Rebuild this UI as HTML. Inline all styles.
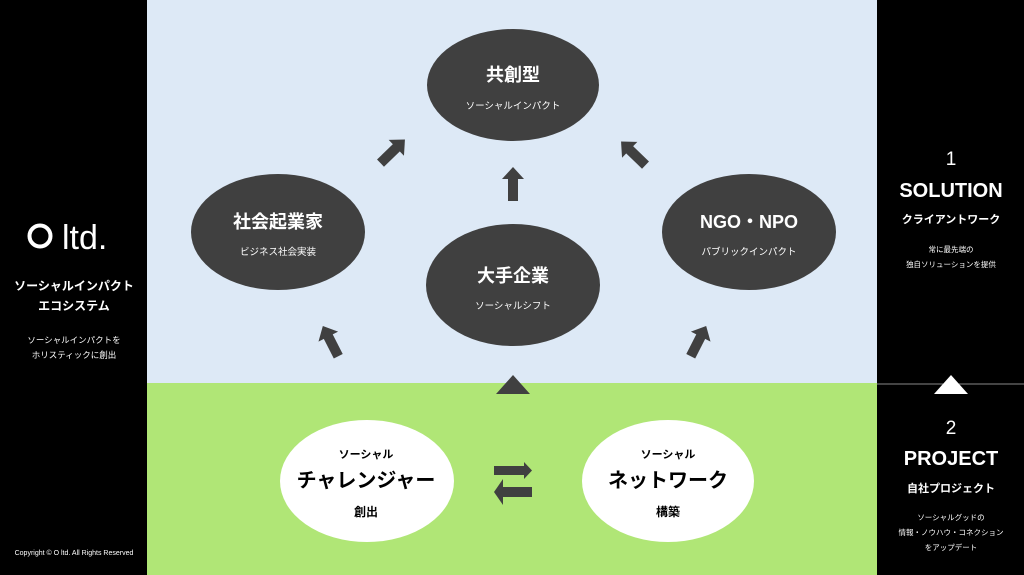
<!DOCTYPE html>
<html><head><meta charset="utf-8"><style>
body{margin:0;width:1024px;height:575px;overflow:hidden;background:#000;font-family:"Liberation Sans","Noto Sans CJK JP",sans-serif}
svg{position:absolute;left:0;top:0}
</style></head><body>
<svg width="1024" height="575" viewBox="0 0 1024 575" font-family="Liberation Sans, Noto Sans CJK JP, sans-serif">
<defs>
<g id="ar"><rect x="-5" y="-7" width="10" height="23" fill="#404040"/><polygon points="-11,-6 11,-6 0,-18" fill="#404040"/></g>
</defs>
<rect x="0" y="0" width="1024" height="575" fill="#000"/>
<rect x="147" y="0" width="730" height="383" fill="#dde9f6"/>
<rect x="147" y="383" width="730" height="192" fill="#b0e676"/>
<line x1="877" y1="384" x2="1024" y2="384" stroke="#888" stroke-width="1"/>
<!-- left panel -->
<circle cx="40" cy="236" r="10.5" fill="none" stroke="#fff" stroke-width="4"/>
<text x="62" y="249" fill="#fff" font-size="34">ltd.</text>
<text x="74" y="290" fill="#fff" font-size="12" font-weight="bold" text-anchor="middle">ソーシャルインパクト</text>
<text x="74" y="310" fill="#fff" font-size="12" font-weight="bold" text-anchor="middle">エコシステム</text>
<text x="74" y="343" fill="#fff" font-size="8.5" text-anchor="middle">ソーシャルインパクトを</text>
<text x="74" y="358" fill="#fff" font-size="8.5" text-anchor="middle">ホリスティックに創出</text>
<text x="74" y="555" fill="#fff" font-size="7" text-anchor="middle">Copyright © O ltd. All Rights Reserved</text>
<!-- right panel -->
<text x="951" y="165" fill="#fff" font-size="19" text-anchor="middle">1</text>
<text x="951" y="197" fill="#fff" font-size="20" font-weight="bold" text-anchor="middle">SOLUTION</text>
<text x="951" y="223" fill="#fff" font-size="11" font-weight="bold" text-anchor="middle">クライアントワーク</text>
<text x="951" y="252" fill="#fff" font-size="7.5" text-anchor="middle">常に最先端の</text>
<text x="951" y="267" fill="#fff" font-size="7.5" text-anchor="middle">独自ソリューションを提供</text>
<polygon points="951,375 934,394 968,394" fill="#fff"/>
<text x="951" y="434" fill="#fff" font-size="19" text-anchor="middle">2</text>
<text x="951" y="465" fill="#fff" font-size="20" font-weight="bold" text-anchor="middle">PROJECT</text>
<text x="951" y="492" fill="#fff" font-size="11" font-weight="bold" text-anchor="middle">自社プロジェクト</text>
<text x="951" y="520" fill="#fff" font-size="7.5" text-anchor="middle">ソーシャルグッドの</text>
<text x="951" y="535" fill="#fff" font-size="7.5" text-anchor="middle">情報・ノウハウ・コネクション</text>
<text x="951" y="550" fill="#fff" font-size="7.5" text-anchor="middle">をアップデート</text>
<!-- ellipses -->
<ellipse cx="513" cy="85" rx="86" ry="56" fill="#404040"/>
<ellipse cx="278" cy="232" rx="87" ry="58" fill="#404040"/>
<ellipse cx="513" cy="285" rx="87" ry="61" fill="#404040"/>
<ellipse cx="749" cy="232" rx="87" ry="58" fill="#404040"/>
<ellipse cx="367" cy="481" rx="87" ry="61" fill="#fff"/>
<ellipse cx="668" cy="481" rx="86" ry="61" fill="#fff"/>
<g fill="#fff" text-anchor="middle">
<text x="513" y="81" font-size="18" font-weight="bold">共創型</text>
<text x="513" y="109" font-size="9.5">ソーシャルインパクト</text>
<text x="278" y="228" font-size="18" font-weight="bold">社会起業家</text>
<text x="278" y="255" font-size="9.5">ビジネス社会実装</text>
<text x="513" y="282" font-size="18" font-weight="bold">大手企業</text>
<text x="513" y="309" font-size="9.5">ソーシャルシフト</text>
<text x="749" y="228" font-size="18" font-weight="bold">NGO・NPO</text>
<text x="749" y="255" font-size="9.5">パブリックインパクト</text>
</g>
<g fill="#000" text-anchor="middle">
<text x="366" y="458" font-size="11" font-weight="bold">ソーシャル</text>
<text x="366" y="487" font-size="20" font-weight="bold">チャレンジャー</text>
<text x="366" y="516" font-size="12" font-weight="bold">創出</text>
<text x="668" y="458" font-size="11" font-weight="bold">ソーシャル</text>
<text x="668" y="487" font-size="20" font-weight="bold">ネットワーク</text>
<text x="668" y="516" font-size="12" font-weight="bold">構築</text>
</g>
<!-- arrows -->
<use href="#ar" transform="translate(513,185)"/>
<use href="#ar" transform="translate(392,152) rotate(46)"/>
<use href="#ar" transform="translate(634,154) rotate(-46)"/>
<use href="#ar" transform="translate(331,342) rotate(-27)"/>
<use href="#ar" transform="translate(698,342) rotate(27)"/>
<polygon points="513,375 496,394 530,394" fill="#404040"/>
<rect x="494" y="466" width="30" height="9" fill="#404040"/><polygon points="524,462 532,470.5 524,479" fill="#404040"/>
<rect x="502" y="487" width="30" height="10" fill="#404040"/><polygon points="503,479 494,492 503,505" fill="#404040"/>
</svg>
</body></html>
